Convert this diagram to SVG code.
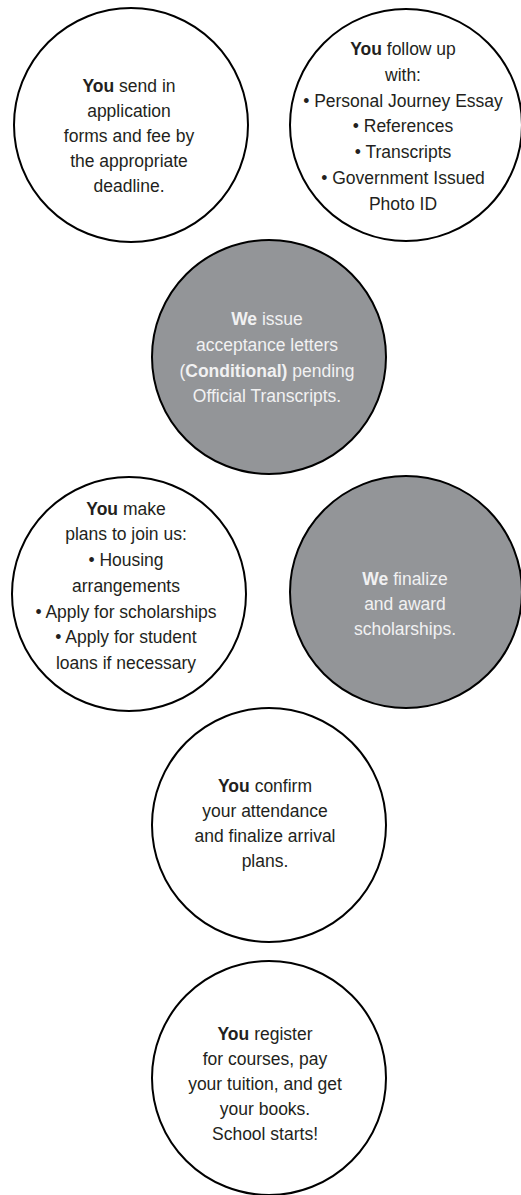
<svg xmlns="http://www.w3.org/2000/svg" width="521" height="1195" viewBox="0 0 521 1195">
<style>
.c{stroke:#000;stroke-width:2}
.w{fill:#fff}
.g{fill:#939598}
text{font-family:"Liberation Sans",Arial,sans-serif;font-size:17.5px;text-anchor:middle}
.dk{fill:#231f20}
.lt{fill:#f1f1f2}
.b{font-weight:bold}
</style>
<rect width="521" height="1195" fill="#fff"/>
<g id="connectors"></g>
<g id="node1">
<circle class="c w" cx="131" cy="125" r="117"/>
<text class="dk"><tspan x="129" y="92"><tspan class="b">You</tspan> send in</tspan><tspan x="129" y="117">application</tspan><tspan x="129" y="142">forms and fee by</tspan><tspan x="129" y="167">the appropriate</tspan><tspan x="129" y="192">deadline.</tspan></text>
</g>
<g id="node2">
<circle class="c w" cx="406" cy="125" r="116"/>
<text class="dk"><tspan x="403" y="55"><tspan class="b">You</tspan> follow up</tspan><tspan x="403" y="81">with:</tspan><tspan x="403" y="107">• Personal Journey Essay</tspan><tspan x="403" y="132">• References</tspan><tspan x="403" y="158">• Transcripts</tspan><tspan x="403" y="184">• Government Issued</tspan><tspan x="403" y="210">Photo ID</tspan></text>
</g>
<g id="node3">
<circle class="c g" cx="269" cy="357" r="117"/>
<text class="lt"><tspan x="267" y="325"><tspan class="b">We</tspan> issue</tspan><tspan x="267" y="351">acceptance letters</tspan><tspan x="267" y="377">(<tspan class="b">Conditional)</tspan> pending</tspan><tspan x="267" y="402">Official Transcripts.</tspan></text>
</g>
<g id="node4">
<circle class="c w" cx="129" cy="594" r="117"/>
<text class="dk"><tspan x="126" y="515"><tspan class="b">You</tspan> make</tspan><tspan x="126" y="540">plans to join us:</tspan><tspan x="126" y="566">• Housing</tspan><tspan x="126" y="592">arrangements</tspan><tspan x="126" y="618">• Apply for scholarships</tspan><tspan x="126" y="643">• Apply for student</tspan><tspan x="126" y="669">loans if necessary</tspan></text>
</g>
<g id="node5">
<circle class="c g" cx="406" cy="592" r="116"/>
<text class="lt"><tspan x="405" y="585"><tspan class="b">We</tspan> finalize</tspan><tspan x="405" y="610">and award</tspan><tspan x="405" y="635">scholarships.</tspan></text>
</g>
<g id="node6">
<circle class="c w" cx="269" cy="825" r="117"/>
<text class="dk"><tspan x="265" y="792"><tspan class="b">You</tspan> confirm</tspan><tspan x="265" y="817">your attendance</tspan><tspan x="265" y="842">and finalize arrival</tspan><tspan x="265" y="867">plans.</tspan></text>
</g>
<g id="node7">
<circle class="c w" cx="269" cy="1078" r="117"/>
<text class="dk"><tspan x="265" y="1040"><tspan class="b">You</tspan> register</tspan><tspan x="265" y="1065">for courses, pay</tspan><tspan x="265" y="1090">your tuition, and get</tspan><tspan x="265" y="1115">your books.</tspan><tspan x="265" y="1140">School starts!</tspan></text>
</g>
</svg>
